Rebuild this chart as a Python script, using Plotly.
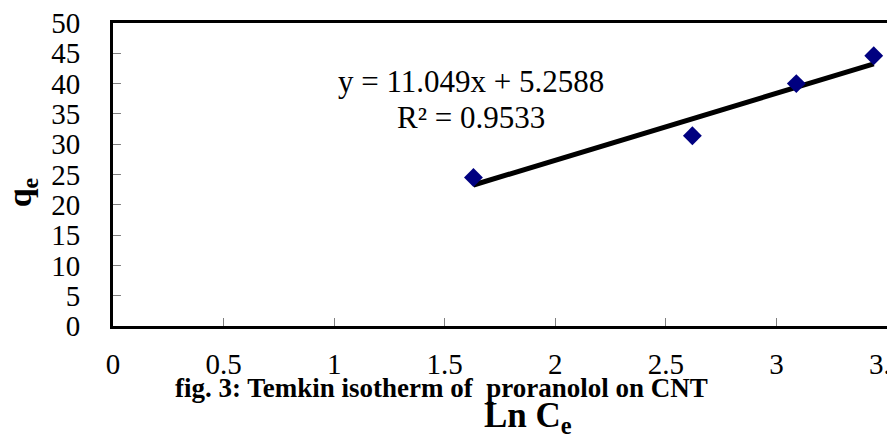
import plotly.graph_objects as go

# Data
ln_ce = [1.63, 2.62, 3.09, 3.44]
qe = [24.5, 31.4, 40.0, 44.6]
slope = 11.049
intercept = 5.2588
r_squared = 0.9533
x_ticks = [0, 0.5, 1, 1.5, 2, 2.5, 3, 3.5]
y_ticks = [0, 5, 10, 15, 20, 25, 30, 35, 40, 45, 50]

SERIF = "Times New Roman, Liberation Serif, serif"

fit_x = [min(ln_ce), max(ln_ce)]
fit_y = [slope * v + intercept for v in fit_x]

fig = go.Figure()
fig.add_trace(go.Scatter(x=fit_x, y=fit_y, mode="lines",
                         line=dict(color="black", width=5), showlegend=False))
fig.add_trace(go.Scatter(x=ln_ce, y=qe, mode="markers",
                         marker=dict(symbol="diamond", size=14.5, color="#000080"),
                         showlegend=False))

fig.update_layout(
    width=887, height=434,
    margin=dict(l=113, r=0, t=23, b=108),
    paper_bgcolor="white", plot_bgcolor="white",
    font=dict(family=SERIF, color="black"),
    xaxis=dict(range=[0, 3.5], tickvals=x_ticks, ticktext=[f"{v:g}" for v in x_ticks],
               showgrid=False, zeroline=False, showline=True, linecolor="black",
               linewidth=3, mirror=True, ticks="inside", ticklen=8, tickwidth=1,
               tickcolor="#808080", tickfont=dict(size=29, family=SERIF),
               ticklabelstandoff=10, automargin=False, ticklabeloverflow="allow"),
    yaxis=dict(range=[0, 50], tickvals=y_ticks, showgrid=False, zeroline=False,
               showline=True, linecolor="black", linewidth=3, mirror=True,
               ticks="inside", ticklen=8, tickwidth=1, tickcolor="#808080",
               tickfont=dict(size=29, family=SERIF), ticklabelstandoff=24,
               automargin=False),
)

fig.add_annotation(x=1.62, y=40.3, xref="x", yref="y", xanchor="center", yanchor="middle",
                   text=f"y = {slope}x + {intercept}", showarrow=False,
                   font=dict(size=31, family=SERIF))
fig.add_annotation(x=1.62, y=34.4, xref="x", yref="y", xanchor="center", yanchor="middle",
                   text=f"R² = {r_squared}", showarrow=False,
                   font=dict(size=31, family=SERIF))

fig.add_annotation(x=-0.118, y=0.44, xref="paper", yref="paper",
                   xanchor="center", yanchor="middle",
                   text="<b>q<sub>e</sub></b>", textangle=-90, showarrow=False,
                   font=dict(size=34, family=SERIF))
fig.add_annotation(x=0.536, y=-0.225, xref="paper", yref="paper",
                   xanchor="center", yanchor="top",
                   text="<b>Ln C<sub>e</sub></b>", showarrow=False,
                   font=dict(size=35, family=SERIF))
fig.add_annotation(x=0.424, y=-0.205, xref="paper", yref="paper",
                   xanchor="center", yanchor="middle",
                   text="<b>fig. 3: Temkin isotherm of  proranolol on CNT</b>",
                   showarrow=False, font=dict(size=27, family=SERIF))

fig.write_html("out.html", config={"displayModeBar": False},
               post_script="document.body.style.margin='0';")
